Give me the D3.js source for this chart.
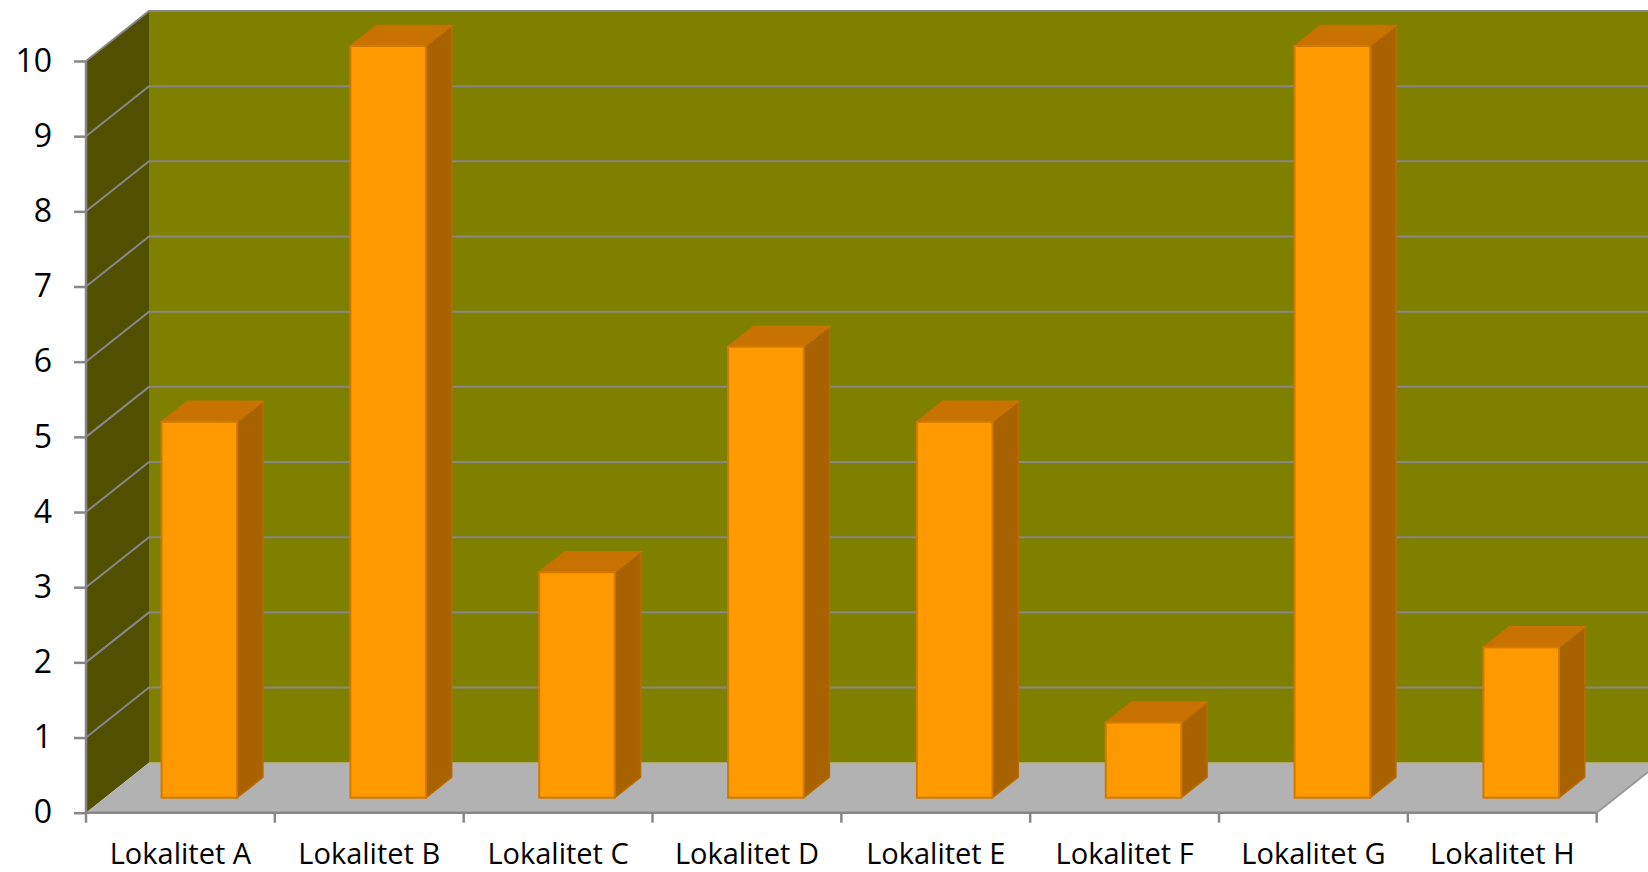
<!DOCTYPE html>
<html><head><meta charset="utf-8">
<script src="https://cdn.jsdelivr.net/npm/d3@7"></script>
<style>html,body{margin:0;padding:0;background:#fff;}svg{display:block;}</style>
</head><body>
<svg id="chart" width="1648" height="872"></svg>
<script>
const categories = ["Lokalitet A","Lokalitet B","Lokalitet C","Lokalitet D","Lokalitet E","Lokalitet F","Lokalitet G","Lokalitet H"];
const values = [5,10,3,6,5,1,10,2];
const yTicks = [0,1,2,3,4,5,6,7,8,9,10];

const W = 1648, H = 872;
const x0 = 86, x1 = 1596.7, yBase = 812.7, yTop = 61;
const DX = 63, DY = -50; // depth vector
const zFront = 0.30, zBack = 0.71;

const svg = d3.select("#chart");
const x = d3.scaleBand().domain(categories).range([x0, x1]).paddingInner(0).paddingOuter(0);
const y = d3.scaleLinear().domain([0, 10]).range([yBase, yTop]);
const P = (px, py, z) => [px + z*DX, py + z*DY];
const line = pts => "M" + pts.map(p => p.join(",")).join("L") + "Z";

const grid = "#878787";
// back wall
const bw0 = P(x0, y(10), 1), bw1 = P(x1, y(0), 1);
svg.append("rect").attr("x", bw0[0]).attr("y", bw0[1]).attr("width", bw1[0]-bw0[0]).attr("height", bw1[1]-bw0[1]).attr("fill", "#808000");
// left wall
svg.append("path").attr("d", line([P(x0,y(10),0), P(x0,y(10),1), P(x0,y(0),1), P(x0,y(0),0)])).attr("fill", "#505000");
// floor
svg.append("path").attr("d", line([P(x0,y(0),0), P(x1,y(0),0), P(x1,y(0),1), P(x0,y(0),1)])).attr("fill", "#b2b2b2");
svg.append("path").attr("d", "M" + P(x1,y(0),0).join(",") + "L" + P(x1,y(0),1).join(",")).attr("stroke", "#9a9a9a").attr("stroke-width", 2).attr("fill","none");

// gridlines
yTicks.filter(v => v > 0).forEach(v => {
  const a = P(x0, y(v), 0), b = P(x0, y(v), 1), c = P(x1, y(v), 1);
  svg.append("path").attr("d", `M${a}L${b}L${c}`).attr("stroke", grid).attr("stroke-width", 2).attr("fill", "none");
});

// y axis
const yAxis = d3.axisLeft(y).tickValues(yTicks).tickSize(12).tickPadding(22).tickFormat(d3.format("d"));
const gy = svg.append("g").attr("transform", `translate(${x0},0)`).call(yAxis);
gy.select(".domain").attr("stroke", grid).attr("stroke-width", 2.5).attr("d", `M0,${y(10)}V${y(0)}`);
gy.selectAll(".tick line").attr("stroke", grid).attr("stroke-width", 2.5);
gy.selectAll(".tick text").attr("font-family", "'Open Sans', Lato, sans-serif").attr("font-size", 32).attr("fill", "#000");

// x axis
const xAxis = d3.axisBottom(x).tickSize(0).tickPadding(0);
const gx = svg.append("g").attr("transform", `translate(0,${yBase})`).call(xAxis);
gx.select(".domain").attr("stroke", grid).attr("stroke-width", 2.5).attr("d", `M${x0},0H${x1}`);
gx.selectAll(".tick line").remove();
gx.selectAll(".tick text").attr("y", 51).attr("dy", 0).attr("font-family", "'Open Sans', Lato, sans-serif").attr("font-size", 29).attr("fill", "#000");
// category boundary ticks
const bounds = categories.map(c => x(c)).concat([x1]);
svg.append("g").selectAll("line").data(bounds).join("line")
  .attr("x1", d => d).attr("x2", d => d).attr("y1", yBase).attr("y2", yBase + 10)
  .attr("stroke", grid).attr("stroke-width", 2.5);

// bars
const bw = x.bandwidth() * 0.4;
const bars = svg.append("g").selectAll("g").data(categories.map((c,i) => ({c, v: values[i]}))).join("g");
bars.each(function(d) {
  const g = d3.select(this);
  const cx = x(d.c) + x.bandwidth()/2;
  const l = cx - bw/2, r = cx + bw/2, t = y(d.v), b = y(0);
  const stroke = "#d27a00";
  g.append("path").attr("d", line([P(r,t,zFront), P(r,t,zBack), P(r,b,zBack), P(r,b,zFront)]))
    .attr("fill", "#a86300").attr("stroke", "#b86c00").attr("stroke-width", 1.5);
  g.append("path").attr("d", line([P(l,t,zFront), P(l,t,zBack), P(r,t,zBack), P(r,t,zFront)]))
    .attr("fill", "#c87200").attr("stroke", "#c87200").attr("stroke-width", 1.5);
  const f0 = P(l,t,zFront), f1 = P(r,b,zFront);
  g.append("rect").attr("x", f0[0]).attr("y", f0[1]).attr("width", f1[0]-f0[0]).attr("height", f1[1]-f0[1])
    .attr("fill", "#ff9900").attr("stroke", stroke).attr("stroke-width", 2);
});
</script>
</body></html>
